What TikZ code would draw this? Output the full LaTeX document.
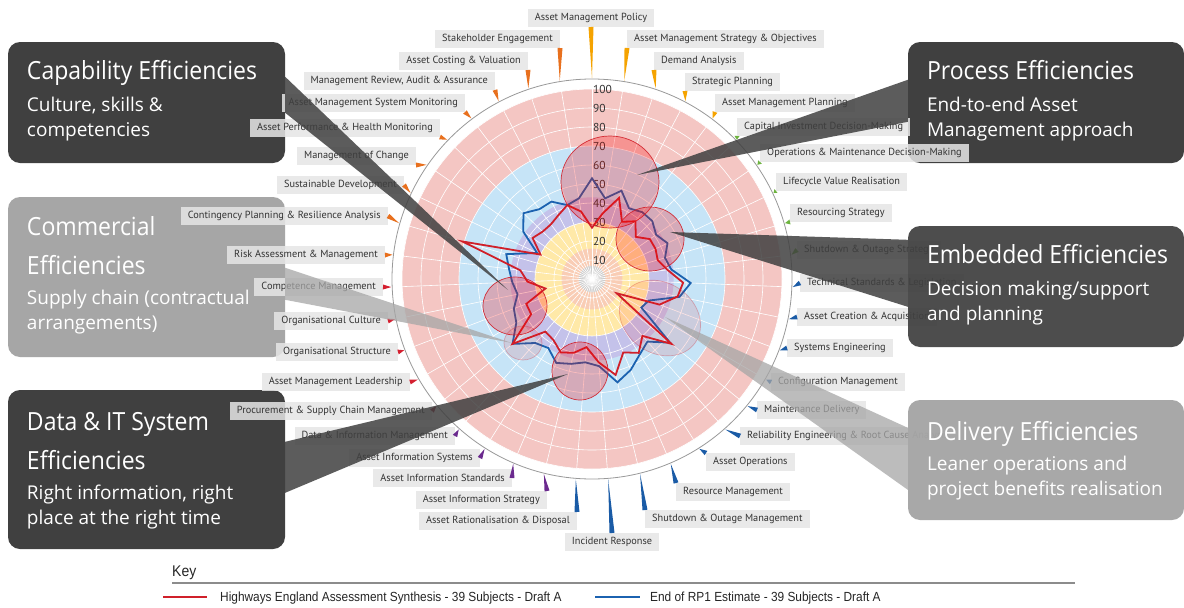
\documentclass[tikz,border=0pt]{standalone}
\usepackage{fontspec}
\usepackage{tikz}
\usetikzlibrary{shapes.geometric, calc, positioning}
\setmainfont{PT Sans}
\newfontfamily\fontRiquadro{Open Sans}
\newfontfamily\fontTitolo[FakeStretch=0.92]{Open Sans}
\newfontfamily\fontLegenda[FakeStretch=0.9]{Liberation Sans}
\definecolor{rosaAnello}{HTML}{F4C6C3}
\definecolor{bluAnello}{HTML}{C6E4F7}
\definecolor{gialloAnello}{HTML}{FFE9A8}
\definecolor{salmone}{HTML}{F9CDB5}
\definecolor{lavanda}{HTML}{C4C2EA}
\definecolor{rossoSerie}{HTML}{D0202A}
\definecolor{bluSerie}{HTML}{1B62B0}
\definecolor{grigioScuro}{HTML}{404040}
\definecolor{grigioChiaro}{HTML}{A6A6A6}
\definecolor{grigioEtichetta}{HTML}{E6E6E6}
\definecolor{ambra}{HTML}{F5A300}
\definecolor{verde}{HTML}{6DB33F}
\definecolor{bluScuro}{HTML}{1A5BA6}
\definecolor{viola}{HTML}{6B2A8E}
\definecolor{rossoScuro}{HTML}{9B1830}
\definecolor{rosso}{HTML}{D42030}
\definecolor{arancio}{HTML}{E8701E}
\tikzset{
  etichetta/.style={fill=grigioEtichetta, fill opacity=0.85, text opacity=1, text=black!80,
    inner xsep=7pt, inner ysep=0pt, minimum height=18pt, font=\fontsize{10.3}{12}\selectfont},
  numero/.style={anchor=west, inner sep=1pt, text=black!80, font=\fontsize{11.5}{14}\selectfont},
  riquadro/.style={rounded corners=12pt, minimum width=277pt, minimum height=121pt, inner sep=0pt},
  titolo/.style={anchor=north west, inner sep=0pt, text=white, align=left,
    font=\fontTitolo\fontsize{25}{39}\selectfont},
  sottotitolo/.style={anchor=north west, inner sep=0pt, text=white, align=left,
    font=\fontRiquadro\fontsize{19}{25}\selectfont},
  ovale/.style={ellipse, draw=rossoSerie, fill=red, fill opacity=0.25, draw opacity=0.9,
    inner sep=0pt, line width=0.7pt},
  ovaleTenue/.style={ovale, fill opacity=0.1, draw opacity=0.3},
  lancia/.style={fill=grigioScuro, opacity=0.85},
  lanciaChiara/.style={fill=grigioChiaro, opacity=0.75},
  serie/.style={line width=1.8pt, line join=miter},
  legenda/.style={anchor=base west, inner sep=0pt, text=black!85, font=\fontLegenda\fontsize{13.2}{15}\selectfont}
}

\begin{document}
\begin{tikzpicture}[x=1pt, y=-1pt]
    % Parametri
    \pgfmathsetmacro{\scala}{1.9}
    \pgfmathsetmacro{\passo}{360/39}
    \coordinate (C) at (592,279);
    \useasboundingbox (0,0) rectangle (1184,608);
    \fill[white] (0,0) rectangle (1184,608);
    % Anelli
    \fill[rosaAnello] (C) circle (100*\scala);
    \fill[bluAnello] (C) circle (70*\scala);
    \fill[lavanda] (C) circle (43*\scala);
    \fill[gialloAnello] (C) circle (30*\scala);
    \fill[salmone] (C) circle (16*\scala);
    \fill[black!20] (C) circle (7*\scala);
    % Griglia
    \foreach \n in {10,20,...,100}
        \draw[white, line width=0.6pt] (C) circle (\n*\scala);
    \begin{scope}[shift={(C)}]
        \foreach \k in {0,...,38}
            \draw[white, line width=0.6pt] (0,0) -- ({\k*\passo-90}:{100*\scala});
    \end{scope}
    \fill[white] (C) circle (2.5);
    \draw[black!40, line width=0.8pt] (C) circle (200);
    % Scala
    \foreach \n in {10,20,...,100}
        \node[numero] (n\n) at ($(C)+(0,-\n*\scala)$) {\n};
    % Serie
    \begin{scope}[shift={(C)}]
        \draw[serie, bluSerie] (-90:{53*\scala})
            \foreach \v [count=\k] in {43,49,42,44,44,41,44,40,42,52,47,32,30,53,44,47,52,56,46,44,46,48,43,45,54,46,44,40,42,44,47,32,44,50,46,46,41,43}
            { -- ({\k*\passo-90}:{\v*\scala}) } -- cycle;
        \draw[serie, rossoSerie] (-90:{27*\scala})
            \foreach \v [count=\k] in {35,45,34,38,32,37,37,36,40,48,46,38,15,54,40,46,42,52,44,36,40,42,38,37,54,37,37,25,34,38,71,30,38,36,36,38,41,36}
            { -- ({\k*\passo-90}:{\v*\scala}) } -- cycle;
    \end{scope}
    % Ovali
    \node[ovale, minimum width=98pt, minimum height=92pt] (ovPro) at (610,182) {};
    \node[ovale, minimum width=68pt, minimum height=64pt] (ovEmb) at (650,239) {};
    \node[ovaleTenue, minimum width=86pt, minimum height=70pt, rotate=-35] (ovDel) at (660,318) {};
    \node[ovale, minimum width=64pt, minimum height=58pt] (ovCap) at (515,306) {};
    \node[ovaleTenue, minimum width=38pt, minimum height=34pt] (ovCom) at (523,343) {};
    \node[ovale, minimum width=56pt, minimum height=58pt] (ovDat) at (580,371) {};
    % Riquadri (sotto le etichette)
    \node[riquadro, fill=grigioScuro] (cap) at (146.5,102.5) {};
    \node[riquadro, fill=grigioChiaro, minimum height=160pt] (com) at (146.5,277) {};
    \node[riquadro, fill=grigioScuro, minimum height=159pt] (dat) at (146.5,469.5) {};
    \node[riquadro, fill=grigioScuro, minimum width=276pt] (pro) at (1046,102.5) {};
    % Etichette
    \foreach \k/\x/\y/\ancora/\col/\testo in {
        0/591/27/south/ambra/{Asset Management Policy},
        1/627/48/south west/ambra/{Asset Management Strategy \& Objectives},
        2/654/70/south west/ambra/{Demand Analysis},
        3/685/91/south west/ambra/{Strategic Planning},
        4/715/112/south west/ambra/{Asset Management Planning},
        5/737/136/south west/verde/{Capital Investment Decision-Making},
        6/760/162/south west/verde/{Operations \& Maintenance Decision-Making},
        7/776/191/south west/verde/{Lifecycle Value Realisation},
        8/790/222/south west/verde/{Resourcing Strategy},
        9/797/250/west/verde/{Shutdown \& Outage Strategy},
        10/800/283/west/bluScuro/{Technical Standards \& Legislation},
        11/797/317/west/bluScuro/{Asset Creation \& Acquisition},
        12/787/348/west/bluScuro/{Systems Engineering},
        13/771/382/west/bluScuro/{Configuration Management},
        14/757/410/west/bluScuro/{Maintenance Delivery},
        15/740/436/west/bluScuro/{Reliability Engineering \& Root Cause Analysis},
        16/706/453/north west/bluScuro/{Asset Operations},
        17/676/483/north west/bluScuro/{Resource Management},
        18/645/510/north west/bluScuro/{Shutdown \& Outage Management},
        19/612/533/north/bluScuro/{Incident Response},
        20/577/512/north east/bluScuro/{Asset Rationalisation \& Disposal},
        21/547/491/north east/viola/{Asset Information Strategy},
        22/512/478/east/viola/{Asset Information Standards},
        23/480/458/east/viola/{Asset Information Systems},
        24/455/436/east/viola/{Data \& Information Management},
        25/432/411/east/rossoScuro/{Procurement \& Supply Chain Management},
        26/410/382/east/rosso/{Asset Management Leadership},
        27/398/352/east/rosso/{Organisational Structure},
        28/388/321/east/rosso/{Organisational Culture},
        29/383/287/east/rosso/{Competence Management},
        30/385/255/east/arancio/{Risk Assessment \& Management},
        31/388/216/east/arancio/{Contingency Planning \& Resilience Analysis},
        32/404/185/east/arancio/{Sustainable Development},
        33/416/165/south east/arancio/{Management of Change},
        34/440/137/south east/arancio/{Asset Performance \& Health Monitoring},
        35/465/112/south east/arancio/{Asset Management System Monitoring},
        36/495/90/south east/arancio/{Management Review, Audit \& Assurance},
        37/528/70/south east/arancio/{Asset Costing \& Valuation},
        38/560/48/south east/arancio/{Stakeholder Engagement}}{
        \node[etichetta, anchor=\ancora] (s\k) at (\x,\y) {\testo};
        \coordinate (t\k) at ($(C)+({\k*\passo-90}:201)$);
        \fill[\col] (t\k) -- ($(s\k.\ancora)!2.5pt!90:(t\k)$) -- ($(s\k.\ancora)!2.5pt!-90:(t\k)$) -- cycle;
    }
    % Riquadri (sopra le etichette)
    \node[riquadro, fill=grigioScuro, fill opacity=0.93, minimum width=276pt] (emb) at (1046,286.5) {};
    \node[riquadro, fill=grigioChiaro, fill opacity=0.97, minimum width=276pt, minimum height=120pt] (del) at (1046,460) {};
    % Lance
    \coordinate (capP) at (508,290);
    \coordinate (comP) at (512,343);
    \coordinate (datP) at (568,374);
    \coordinate (proP) at (637,175);
    \coordinate (embP) at (670,232);
    \coordinate (delP) at (665,317);
    \fill[lancia] ($(cap.north east)+(0,35)$) -- (capP) -- ($(cap.north east)+(0,71)$) -- cycle;
    \fill[lanciaChiara] ($(com.north east)+(0,71)$) -- (comP) -- ($(com.north east)+(0,103)$) -- cycle;
    \fill[lancia] ($(dat.north east)+(0,52)$) -- (datP) -- ($(dat.north east)+(0,103)$) -- cycle;
    \fill[lancia] ($(pro.north west)+(0,38)$) -- (proP) -- ($(pro.north west)+(0,80)$) -- cycle;
    \fill[lancia] ($(emb.north west)+(0,14)$) -- (embP) -- ($(emb.north west)+(0,81)$) -- cycle;
    \fill[lanciaChiara] ($(del.north west)+(0,28)$) -- (delP) -- ($(del.north west)+(0,90)$) -- cycle;
    % Testi dei riquadri
    \node[titolo] (capT) at ($(cap.north west)+(19,9.7)$) {\strut Capability Efficiencies};
    \node[sottotitolo] (capS) at ($(cap.north west)+(19,51.5)$) {\strut Culture, skills \&\\competencies};
    \node[titolo] (comT) at ($(com.north west)+(19,10.7)$) {\strut Commercial\\Efficiencies};
    \node[sottotitolo] (comS) at ($(com.north west)+(19,89.5)$) {\strut Supply chain (contractual\\arrangements)};
    \node[titolo] (datT) at ($(dat.north west)+(19,12.7)$) {\strut Data \& IT System\\Efficiencies};
    \node[sottotitolo] (datS) at ($(dat.north west)+(19,91.5)$) {\strut Right information, right\\place at the right time};
    \node[titolo] (proT) at ($(pro.north west)+(19,9.7)$) {\strut Process Efficiencies};
    \node[sottotitolo] (proS) at ($(pro.north west)+(19,51.5)$) {\strut End-to-end Asset\\Management approach};
    \node[titolo] (embT) at ($(emb.north west)+(19,9.7)$) {\strut Embedded Efficiencies};
    \node[sottotitolo] (embS) at ($(emb.north west)+(19,51.5)$) {\strut Decision making/support\\and planning};
    \node[titolo] (delT) at ($(del.north west)+(19,12.7)$) {\strut Delivery Efficiencies};
    \node[sottotitolo] (delS) at ($(del.north west)+(19,52.5)$) {\strut Leaner operations and\\project benefits realisation};
    % Legenda
    \node[legenda, font=\fontLegenda\fontsize{15.5}{18}\selectfont] (chiave) at (172,576) {Key};
    \draw[black!45, line width=2pt] (172,583) -- (1075,583);
    \draw[rossoSerie, line width=2pt] (163,597) -- (207,597);
    \node[legenda] (legR) at (220,601) {Highways England Assessment Synthesis - 39 Subjects - Draft A};
    \draw[bluSerie, line width=2pt] (595,597) -- (640,597);
    \node[legenda] (legB) at (650,601) {End of RP1 Estimate - 39 Subjects - Draft A};
\end{tikzpicture}
\end{document}
